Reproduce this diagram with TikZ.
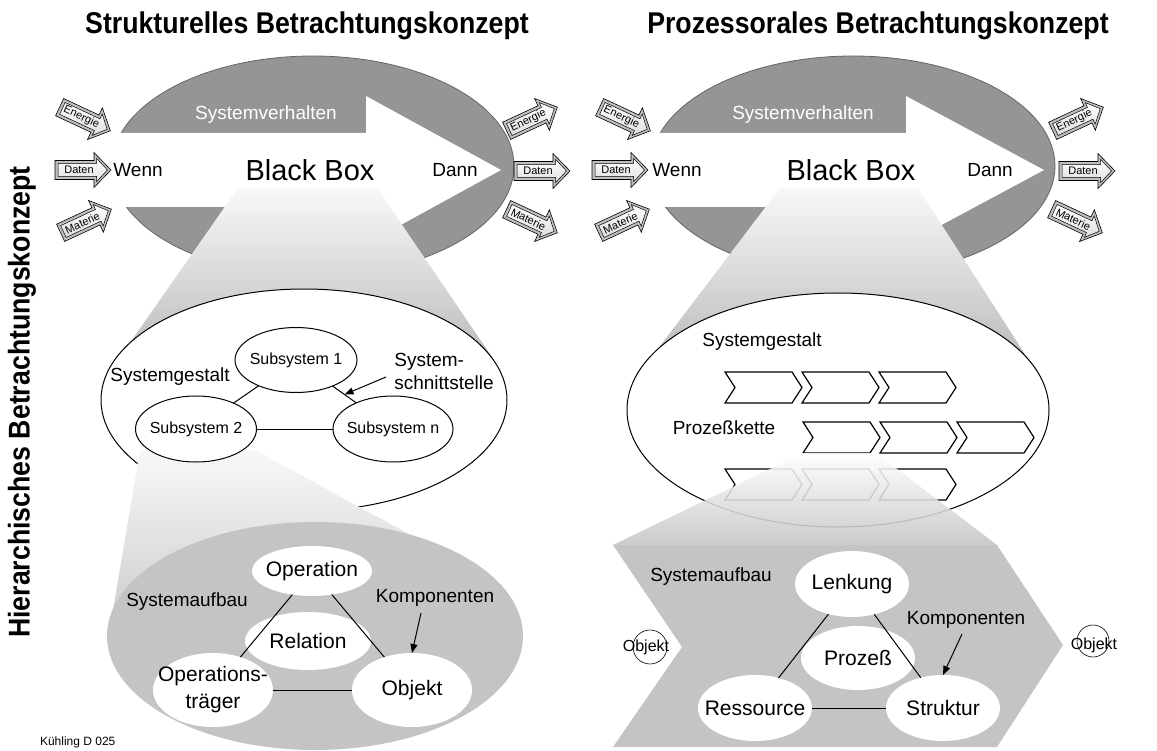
\documentclass[tikz,border=0pt]{standalone}
\usepackage{fontspec}
\setmainfont{Liberation Sans}
\newfontfamily\titlefont[FakeStretch=0.89]{Liberation Sans}
\usetikzlibrary{shapes.geometric,arrows.meta,calc}
\definecolor{dgray}{HTML}{959595}
\definecolor{lgray}{HTML}{C4C4C4}
\definecolor{funtop}{HTML}{F8F8F8}
\definecolor{funbot}{HTML}{BBBBBB}
\newcommand{\fsz}[2]{\fontsize{#1}{#2}\selectfont}
\newcommand{\chevron}[2]{\draw[chev] (#1,#2) -- ++(67,0) -- ++(10,15.5) -- ++(-10,15.5) -- ++(-67,0) -- ++(10,-15.5) -- cycle;}
\tikzset{
  every node/.style={inner sep=0pt, outer sep=0pt},
  ttl/.style={font=\titlefont\bfseries\fsz{30}{34}},
  txt/.style={font=\fsz{19}{23}},
  small/.style={font=\fsz{16}{19}},
  big/.style={font=\fsz{21}{27}},
  oval/.style={ellipse, fill=white, draw=black, line width=1pt},
  wov/.style={ellipse, fill=white},
  conn/.style={line width=1pt, draw=black},
  arr/.style={line width=1pt, draw=black, -{Triangle[length=9pt,width=7pt]}},
  chev/.style={fill=white, draw=black, line width=1.2pt, line join=miter},
  bigell/.style={fill=dgray, draw=black!60, line width=0.8pt},
  pics/ioarrow/.style={code={
    \draw[fill=gray!50, draw=black, line width=0.6pt] (-28,-9.5) -- (11,-9.5) -- (11,-17.5) -- (28,0) -- (11,17.5) -- (11,9.5) -- (-28,9.5) -- cycle;
    \draw[top color=white, bottom color=gray!25, draw=black, line width=0.5pt] (-25,-6.5) -- (13.5,-6.5) -- (13.5,-11.8) -- (24.5,0) -- (13.5,11.8) -- (13.5,6.5) -- (-25,6.5) -- cycle;
    \node[font=\fsz{11}{13}, transform shape] (-t) at (-4,0) {#1};
  }},
}
\begin{document}
\begin{tikzpicture}[x=1pt,y=-1pt]
\useasboundingbox[fill=white] (0,0) rectangle (1157,751);

% titles
\node[ttl] (t1) at (307,26) {Strukturelles Betrachtungskonzept};
\node[ttl] (t2) at (878,26) {Prozessorales Betrachtungskonzept};
\node[ttl, rotate=90] (t3) at (22,402) {Hierarchisches Betrachtungskonzept};

% ================= LEFT PANEL =================
\path[bigell] (313,166) ellipse [x radius=201, y radius=110];
\fill[white] (100,133) -- (366,133) -- (366,96) -- (501,170) -- (366,244) -- (366,207) -- (100,207) -- cycle;
\node[txt, text=white] (sv1) at (266,115) {Systemverhalten};
\node[txt] (w1) at (138,170) {Wenn};
\node[font=\fsz{29}{34}] (bb1) at (310,170) {Black Box};
\node[txt] (d1) at (455,170) {Dann};

\pic[rotate=-25] (i1e) at (85,119) {ioarrow=Energie};
\pic (i1d) at (83,170) {ioarrow=Daten};
\pic[rotate=25] (i1m) at (86,221) {ioarrow=Materie};
\pic[rotate=25] (o1e) at (532,119) {ioarrow=Energie};
\pic (o1d) at (542,171) {ioarrow=Daten};
\pic[rotate=-25] (o1m) at (532,221) {ioarrow=Materie};

% funnel 1
\shade[top color=funtop, bottom color=funbot] (238,188) -- (377,188) -- (494,360) -- (118,360) -- cycle;
% middle ellipse
\draw[fill=white, line width=1pt] (304,400) ellipse [x radius=203, y radius=111];
% funnel 2
\shade[top color=funtop, bottom color=lgray!92] (140,450) -- (255,450) -- (502,585) -- (108,640) -- cycle;

\node[oval, minimum width=122, minimum height=65] (s1) at (296,360) {};
\node[oval, minimum width=121, minimum height=66] (s2) at (196,429) {};
\node[oval, minimum width=120, minimum height=66] (sn) at (393,429) {};
\node[small] (s1t) at (s1) {Subsystem 1};
\node[small] (s2t) at (s2) {Subsystem 2};
\node[small] (snt) at (sn) {Subsystem n};
\draw[conn] (s1) -- (s2);
\draw[conn] (s1) -- (sn);
\draw[conn] (s2) -- (sn);
\node[txt] (sg1) at (170,377) {Systemgestalt};
\node[txt, align=left] (sst) at (444,371) {System-\\schnittstelle};
\coordinate (sstA) at (386,377);
\coordinate (ifc) at ($(s1)!0.5!(sn)$);
\draw[arr] (sstA) -- (ifc);

% bottom ellipse
\fill[lgray] (315,636) ellipse [x radius=208, y radius=114];
\node[wov, minimum width=120, minimum height=50] (op) at (312,571) {};
\node[wov, minimum width=126, minimum height=58] (rel) at (308,641) {};
\node[wov, minimum width=120, minimum height=74] (tr) at (213,690) {};
\node[wov, minimum width=120, minimum height=74] (ob) at (412,690) {};
\draw[conn] (op) -- (tr);
\draw[conn] (op) -- (ob);
\draw[conn] (tr) -- (ob);
\node[big] (opt) at (op) {Operation};
\node[big] (relt) at (rel) {Relation};
\node[big, align=center] (trt) at (tr) {Operations-\\träger};
\node[big] (obt) at (ob) {Objekt};
\node[txt] (sa1) at (187,602) {Systemaufbau};
\node[txt] (ko1) at (435,598) {Komponenten};
\coordinate (ko1A) at (421,613);
\draw[arr] (ko1A) -- (ob.north);
\node[font=\fsz{12}{14}, anchor=west] (kd) at (40,742) {Kühling D 025};

% ================= RIGHT PANEL =================
\path[bigell] (853,166) ellipse [x radius=202, y radius=110];
\fill[white] (640,133) -- (906,133) -- (906,96) -- (1044,170) -- (906,244) -- (906,207) -- (640,207) -- cycle;
\node[txt, text=white] (sv2) at (803,115) {Systemverhalten};
\node[txt] (w2) at (677,170) {Wenn};
\node[font=\fsz{29}{34}] (bb2) at (851,170) {Black Box};
\node[txt] (d2) at (990,170) {Dann};

\pic[rotate=-25] (i2e) at (625,119) {ioarrow=Energie};
\pic (i2d) at (620,170) {ioarrow=Daten};
\pic[rotate=25] (i2m) at (624,221) {ioarrow=Materie};
\pic[rotate=25] (o2e) at (1078,119) {ioarrow=Energie};
\pic (o2d) at (1087,171) {ioarrow=Daten};
\pic[rotate=-25] (o2m) at (1077,221) {ioarrow=Materie};

% funnel 1 right
\shade[top color=funtop, bottom color=funbot] (780,188) -- (918,188) -- (1030,362) -- (648,362) -- cycle;
% middle ellipse right
\draw[fill=white, line width=1pt] (838,410) ellipse [x radius=211, y radius=117];
\chevron{725}{372}\chevron{802}{372}\chevron{879}{372}
\chevron{803}{422}\chevron{880}{422}\chevron{957}{422}
\chevron{725}{469}\chevron{802}{469}\chevron{879}{469}
\node[txt] (sg2) at (762,342) {Systemgestalt};
\node[txt] (pk) at (724,428) {Prozeßkette};
% funnel 2 right
\shade[top color=white, bottom color=lgray, opacity=0.88] (803,453) -- (876,453) -- (997,545) -- (613,545) -- cycle;
% bottom chevron shape
\fill[lgray] (613,545) -- (997,545) -- (1063,645) -- (997,747) -- (613,747) -- (682,647) -- cycle;

\node[wov, minimum width=114, minimum height=66] (lk) at (852,584) {};
\node[wov, minimum width=114, minimum height=64] (pz) at (858,658) {};
\node[wov, minimum width=114, minimum height=66] (rs) at (755,708) {};
\node[wov, minimum width=114, minimum height=66] (st) at (943,708) {};
\draw[conn] (lk) -- (rs);
\draw[conn] (lk) -- (st);
\draw[conn] (rs) -- (st);
\node[big] (lkt) at (lk) {Lenkung};
\node[big] (pzt) at (pz) {Prozeß};
\node[big] (rst) at (rs) {Ressource};
\node[big] (stt) at (st) {Struktur};
\node[txt] (sa2) at (711,577) {Systemaufbau};
\node[txt] (ko2) at (966,620) {Komponenten};
\coordinate (ko2A) at (962,634);
\draw[arr] (ko2A) -- (st.north);

\node[small] (obl) at (646,647) {Objekt};
\node[circle, draw=black, line width=0.6pt, minimum size=34] (oc1) at (650,647) {};
\node[small] (obr) at (1094,645) {Objekt};
\node[circle, draw=black, line width=0.6pt, minimum size=32] (oc2) at (1093,641) {};
\end{tikzpicture}
\end{document}
